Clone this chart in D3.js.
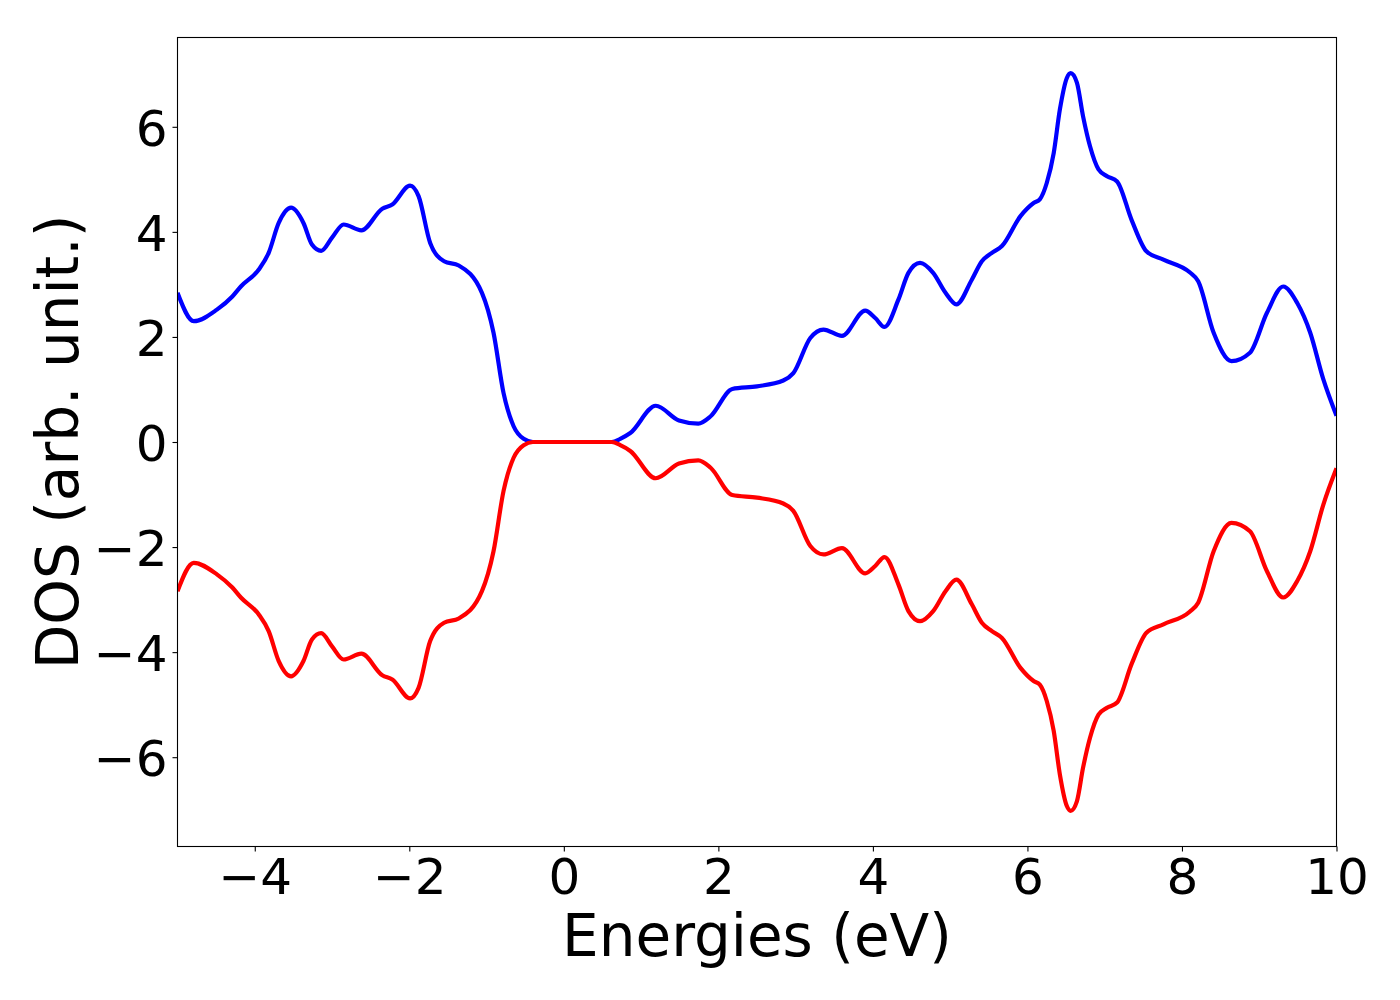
<!DOCTYPE html>
<html>
<head>
<meta charset="utf-8">
<script src="https://cdn.jsdelivr.net/npm/d3@7"></script>
<style>
  html, body { margin: 0; padding: 0; background: #fff; }
  svg { display: block; font-family: "DejaVu Sans", sans-serif; }
</style>
</head>
<body>
<svg id="chart" width="1400" height="1000"></svg>
<script>
// Energies (eV) at which the curves were sampled
const energies = [
  -5.00, -4.79, -4.49, -4.29, -4.18, -3.95, -3.82, -3.69, -3.53, -3.37,
  -3.26, -3.14, -3.00, -2.85, -2.62, -2.35, -2.22, -1.99, -1.88, -1.73,
  -1.55, -1.36, -1.06, -0.91, -0.78, -0.65, -0.52, -0.40, 0.00, 0.40,
  0.62, 0.73, 0.86, 1.19, 1.49, 1.74, 1.90, 2.18, 2.50, 2.84,
  2.97, 3.19, 3.36, 3.60, 3.90, 4.03, 4.15, 4.33, 4.46, 4.61,
  4.78, 4.94, 5.08, 5.28, 5.41, 5.54, 5.67, 5.91, 6.08, 6.16,
  6.25, 6.34, 6.42, 6.51, 6.56, 6.64, 6.72, 6.81, 6.92, 7.03,
  7.16, 7.35, 7.54, 7.76, 8.10, 8.21, 8.41, 8.64, 8.88, 9.10,
  9.31, 9.49, 9.66, 9.83, 10.00
];
// Spin-up DOS (blue)
const dosUp = [
  2.84, 2.30, 2.52, 2.77, 2.96, 3.28, 3.60, 4.17, 4.46, 4.17,
  3.76, 3.64, 3.89, 4.14, 4.03, 4.44, 4.52, 4.88, 4.68, 3.79,
  3.44, 3.36, 2.84, 2.08, 0.93, 0.30, 0.06, 0.00, 0.00, 0.00,
  0.00, 0.06, 0.17, 0.69, 0.41, 0.35, 0.49, 1.01, 1.06, 1.17,
  1.31, 1.98, 2.14, 2.02, 2.50, 2.36, 2.19, 2.71, 3.22, 3.41,
  3.22, 2.84, 2.62, 3.09, 3.44, 3.60, 3.73, 4.30, 4.55, 4.62,
  4.93, 5.50, 6.33, 6.93, 7.02, 6.84, 6.20, 5.63, 5.19, 5.06,
  4.96, 4.22, 3.63, 3.47, 3.23, 3.06, 2.08, 1.54, 1.70, 2.46,
  2.96, 2.65, 2.08, 1.19, 0.50
];
// Spin-down DOS (red)
const dosDown = [
  -2.84, -2.30, -2.52, -2.77, -2.96, -3.28, -3.60, -4.17, -4.46, -4.17,
  -3.76, -3.64, -3.89, -4.14, -4.03, -4.44, -4.52, -4.88, -4.68, -3.79,
  -3.44, -3.36, -2.84, -2.08, -0.93, -0.30, -0.06, 0.00, 0.00, 0.00,
  0.00, -0.06, -0.17, -0.69, -0.41, -0.35, -0.49, -1.01, -1.06, -1.17,
  -1.31, -1.98, -2.14, -2.02, -2.50, -2.36, -2.19, -2.71, -3.22, -3.41,
  -3.22, -2.84, -2.62, -3.09, -3.44, -3.60, -3.73, -4.30, -4.55, -4.62,
  -4.93, -5.50, -6.33, -6.93, -7.02, -6.84, -6.20, -5.63, -5.19, -5.06,
  -4.96, -4.22, -3.63, -3.47, -3.23, -3.06, -2.08, -1.54, -1.70, -2.46,
  -2.96, -2.65, -2.08, -1.19, -0.50
];
const xTicks = [-4, -2, 0, 2, 4, 6, 8, 10];
const yTicks = [-6, -4, -2, 0, 2, 4, 6];
const xLabel = "Energies (eV)";
const yLabel = "DOS (arb. unit.)";

const svg = d3.select("#chart");
const pLeft = 177.5, pRight = 1336.5, pTop = 37.5, pBottom = 846.5;

const x = d3.scaleLinear().domain([-5, 10]).range([pLeft, pRight]);
const y = d3.scaleLinear().domain([-7.7, 7.7]).range([pBottom, pTop]);

const clipId = "plotclip";
svg.append("defs").append("clipPath").attr("id", clipId)
  .append("rect").attr("x", pLeft).attr("y", pTop)
  .attr("width", pRight - pLeft).attr("height", pBottom - pTop);

const line = d3.line().curve(d3.curveMonotoneX);

const g = svg.append("g").attr("clip-path", `url(#${clipId})`);
g.append("path")
  .attr("d", line(energies.map((e, i) => [x(e), y(dosUp[i])])))
  .attr("fill", "none").attr("stroke", "#0000ff").attr("stroke-width", 4.2)
  .attr("stroke-linejoin", "round").attr("stroke-linecap", "butt");
g.append("path")
  .attr("d", line(energies.map((e, i) => [x(e), y(dosDown[i])])))
  .attr("fill", "none").attr("stroke", "#ff0000").attr("stroke-width", 4.2)
  .attr("stroke-linejoin", "round").attr("stroke-linecap", "butt");

// Axes
const xAxis = d3.axisBottom(x).tickValues(xTicks).tickSize(5).tickPadding(8)
  .tickFormat(d3.format("d"));
const yAxis = d3.axisLeft(y).tickValues(yTicks).tickSize(5).tickPadding(8)
  .tickFormat(d3.format("d"));

const gx = svg.append("g").attr("transform", `translate(0,${pBottom})`).call(xAxis);
const gy = svg.append("g").attr("transform", `translate(${pLeft},0)`).call(yAxis);
[gx, gy].forEach(a => {
  a.select(".domain").remove();
  a.selectAll(".tick line").attr("stroke", "#000").attr("stroke-width", 1.1);
  a.selectAll(".tick text").attr("fill", "#000")
    .style("font-family", "'DejaVu Sans', sans-serif").style("font-size", "50px");
});
gx.selectAll(".tick text").attr("dy", null).attr("y", 47.5);
gy.selectAll(".tick text").attr("dy", null).attr("y", 18.2).attr("x", -10);

// Frame
svg.append("rect").attr("x", pLeft).attr("y", pTop)
  .attr("width", pRight - pLeft).attr("height", pBottom - pTop)
  .attr("fill", "none").attr("stroke", "#000").attr("stroke-width", 1.1);

// Labels
svg.append("text").attr("x", (pLeft + pRight) / 2).attr("y", 956)
  .attr("text-anchor", "middle").style("font-size", "58px").attr("fill", "#000")
  .text(xLabel);
svg.append("text").attr("transform", `translate(78,${(pTop + pBottom) / 2}) rotate(-90)`)
  .attr("text-anchor", "middle").style("font-size", "58px").attr("fill", "#000")
  .text(yLabel);
</script>
</body>
</html>
